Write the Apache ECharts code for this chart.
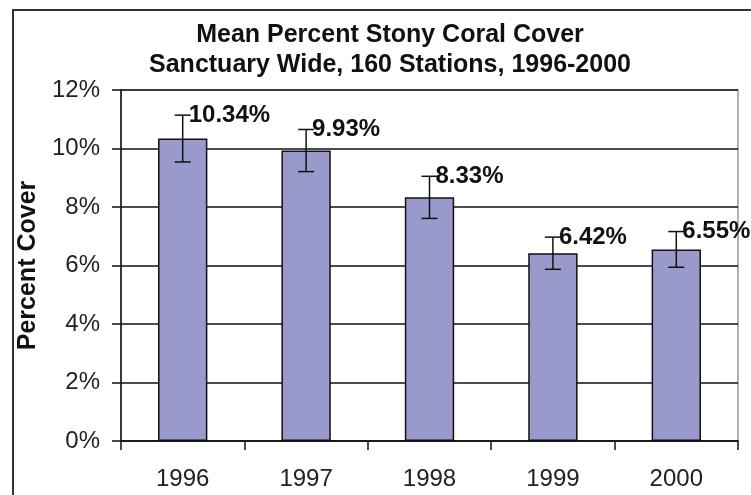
<!DOCTYPE html>
<html>
<head>
<meta charset="utf-8">
<script src="https://cdn.jsdelivr.net/npm/echarts@6/dist/echarts.min.js"></script>
<style>
html,body{margin:0;padding:0;background:#fff;}
#chart{width:751px;height:495px;}
</style>
</head>
<body>
<div id="chart"></div>
<script>
const years = ['1996', '1997', '1998', '1999', '2000'];
const meanCover = [10.34, 9.93, 8.33, 6.42, 6.55];
const errorMargin = [0.80, 0.72, 0.72, 0.55, 0.61];
const yTicks = { min: 0, max: 12, step: 2 };
const titleLines = ['Mean Percent Stony Coral Cover', 'Sanctuary Wide, 160 Stations, 1996-2000'];

const FONT = "'Liberation Sans', Arial, sans-serif";
const chart = echarts.init(document.getElementById('chart'), null, { renderer: 'canvas' });

const errData = years.map((y, i) => [i, meanCover[i] - errorMargin[i], meanCover[i] + errorMargin[i]]);
const labelData = years.map((y, i) => [i, meanCover[i] + errorMargin[i], meanCover[i]]);

chart.setOption({
  animation: false,
  backgroundColor: '#fff',
  title: {
    text: titleLines.join('\n'),
    left: 385,
    textAlign: 'center',
    top: 15,
    textStyle: { fontFamily: FONT, fontSize: 25, fontWeight: 'bold', color: '#111', lineHeight: 30 }
  },
  graphic: [{
    type: 'rect',
    shape: { x: 13, y: 10, width: 800, height: 600 },
    style: { fill: 'none', stroke: '#333', lineWidth: 2 },
    silent: true
  }],
  grid: {
    left: 121, right: 13, top: 90, bottom: 54,
    show: true, borderColor: '#999', borderWidth: 1.5, backgroundColor: '#fff'
  },
  xAxis: {
    type: 'category',
    data: years,
    boundaryGap: true,
    axisLine: { lineStyle: { color: '#111', width: 1.5 } },
    axisTick: { show: true, length: 9, lineStyle: { color: '#111', width: 1.5 } },
    axisLabel: { fontFamily: FONT, fontSize: 24, color: '#222', margin: 26 }
  },
  yAxis: {
    type: 'value',
    min: yTicks.min, max: yTicks.max, interval: yTicks.step,
    name: 'Percent Cover',
    nameLocation: 'middle',
    nameRotate: 90,
    nameGap: 77,
    nameTextStyle: { fontFamily: FONT, fontSize: 25, fontWeight: 'bold', color: '#111' },
    axisLine: { show: true, lineStyle: { color: '#111', width: 1.5 } },
    axisTick: { show: true, length: 9, lineStyle: { color: '#111', width: 1.5 } },
    axisLabel: { fontFamily: FONT, fontSize: 24, color: '#222', margin: 21, formatter: '{value}%' },
    splitLine: { show: true, lineStyle: { color: '#111', width: 1.5 } }
  },
  series: [
    {
      type: 'bar',
      data: meanCover,
      barWidth: '40%',
      itemStyle: { color: '#9999cc', borderColor: '#111', borderWidth: 1.5 },
      z: 2
    },
    {
      type: 'custom',
      data: errData,
      z: 3,
      renderItem: function (params, api) {
        const lo = api.coord([api.value(0), api.value(1)]);
        const hi = api.coord([api.value(0), api.value(2)]);
        const half = 8;
        const st = { stroke: '#111', lineWidth: 1.5 };
        return {
          type: 'group',
          children: [
            { type: 'line', shape: { x1: hi[0], y1: hi[1], x2: lo[0], y2: lo[1] }, style: st },
            { type: 'line', shape: { x1: hi[0] - half, y1: hi[1], x2: hi[0] + half, y2: hi[1] }, style: st },
            { type: 'line', shape: { x1: lo[0] - half, y1: lo[1], x2: lo[0] + half, y2: lo[1] }, style: st }
          ]
        };
      }
    },
    {
      type: 'custom',
      data: labelData,
      z: 4,
      renderItem: function (params, api) {
        const p = api.coord([api.value(0), api.value(1)]);
        return {
          type: 'text',
          x: p[0] + 6,
          y: p[1],
          style: {
            text: api.value(2).toFixed(2) + '%',
            fontFamily: FONT, fontSize: 24, fontWeight: 'bold', fill: '#111',
            align: 'left', verticalAlign: 'middle'
          }
        };
      }
    }
  ]
});
</script>
</body>
</html>
